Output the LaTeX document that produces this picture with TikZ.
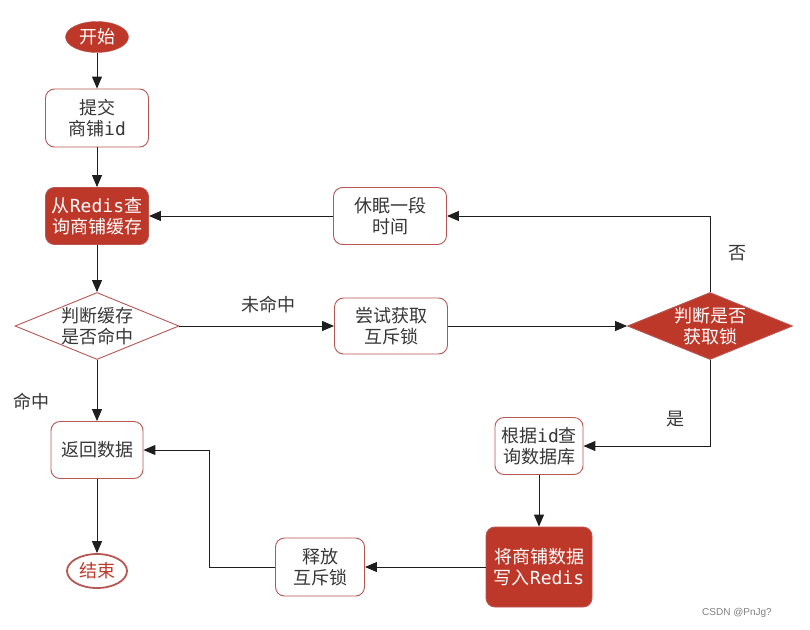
\documentclass[tikz,border=0pt]{standalone}
\usepackage{fontspec}
\setmainfont{Noto Sans CJK SC}
\newfontfamily\monof{DejaVu Sans Mono}
\newfontfamily\wmfont{Liberation Sans}
\usetikzlibrary{shapes.geometric,arrows.meta}
\definecolor{redfill}{RGB}{190,56,42}
\definecolor{bordr}{RGB}{184,86,82}
\definecolor{txtc}{RGB}{55,55,55}
\definecolor{linec}{RGB}{30,30,30}
\tikzset{
  x=1pt,y=-1pt,
  base/.style={font=\fontsize{18}{21.5}\selectfont, align=center, inner sep=0pt},
  wbox/.style={base, rectangle, rounded corners=9pt, draw=bordr, line width=0.9pt, fill=white, text=txtc},
  rbox/.style={base, rectangle, rounded corners=9pt, draw=bordr, line width=0.9pt, fill=redfill, text=white},
  diamw/.style={diamond, draw=bordr, line width=0.9pt, fill=white, inner sep=0pt, minimum width=164pt, minimum height=67pt},
  diamr/.style={diamond, draw=bordr, line width=0.9pt, fill=redfill, inner sep=0pt, minimum width=165pt, minimum height=67pt},
  lbl/.style={base, text=txtc},
  arr/.style={draw=linec, line width=1pt, -{Triangle[length=12pt,width=10pt]}},
}
\begin{document}
\begin{tikzpicture}
\useasboundingbox[fill=white] (0,0) rectangle (810,629);
% nodes
\node[base, ellipse, fill=redfill, draw=bordr, text=white, minimum width=63pt, minimum height=31pt] (start) at (97,37) {开始};
\node[wbox, minimum width=103pt, minimum height=58pt] (submit) at (97,118) {提交\\商铺{\monof id}};
\node[rbox, minimum width=103pt, minimum height=57pt] (query) at (97,216) {从{\monof Redis}查\\询商铺缓存};
\node[diamw] (d1) at (97,326) {};
\node[lbl] (d1t) at (d1) {判断缓存\\是否命中};
\node[wbox, minimum width=92pt, minimum height=57pt] (ret) at (97,450) {返回数据};
\node[base, ellipse, fill=white, draw=bordr, line width=1.8pt, text=redfill, minimum width=60pt, minimum height=34pt] (end) at (97,571) {结束};
\node[wbox, minimum width=113pt, minimum height=57pt] (sleep) at (390,216) {休眠一段\\时间};
\node[wbox, minimum width=113pt, minimum height=56pt] (try) at (391,326) {尝试获取\\互斥锁};
\node[diamr] (d2) at (710,326) {};
\node[base, text=white] (d2t) at (d2) {判断是否\\获取锁};
\node[wbox, minimum width=88pt, minimum height=57pt] (db) at (539,446) {根据{\monof id}查\\询数据库};
\node[rbox, minimum width=106pt, minimum height=80pt] (write) at (539,567) {将商铺数据\\写入{\monof Redis}};
\node[wbox, minimum width=89pt, minimum height=58pt] (rel) at (320,567) {释放\\互斥锁};
% labels
\node[lbl] (l1) at (268,305) {未命中};
\node[lbl] (l2) at (31,402) {命中};
\node[lbl] (l3) at (737,253) {否};
\node[lbl] (l4) at (675,419) {是};
\node[font=\wmfont\fontsize{10}{12}\selectfont, text=gray, inner sep=0pt] (wm) at (737,613) {CSDN @PnJg?};
\coordinate (bend) at (209,567);
% connectors
\draw[arr] (start) -- (submit);
\draw[arr] (submit) -- (query);
\draw[arr] (query) -- (d1.north);
\draw[arr] (d1.south) -- (ret);
\draw[arr] (ret) -- (end);
\draw[arr] (d1.east) -- (try);
\draw[arr] (try) -- (d2.west);
\draw[arr] (d2.north) |- (sleep.east);
\draw[arr] (sleep) -- (query);
\draw[arr] (d2.south) |- (db.east);
\draw[arr] (db) -- (write);
\draw[arr] (write) -- (rel);
\draw[arr] (rel.west) -- (bend) |- (ret.east);
\end{tikzpicture}
\end{document}
